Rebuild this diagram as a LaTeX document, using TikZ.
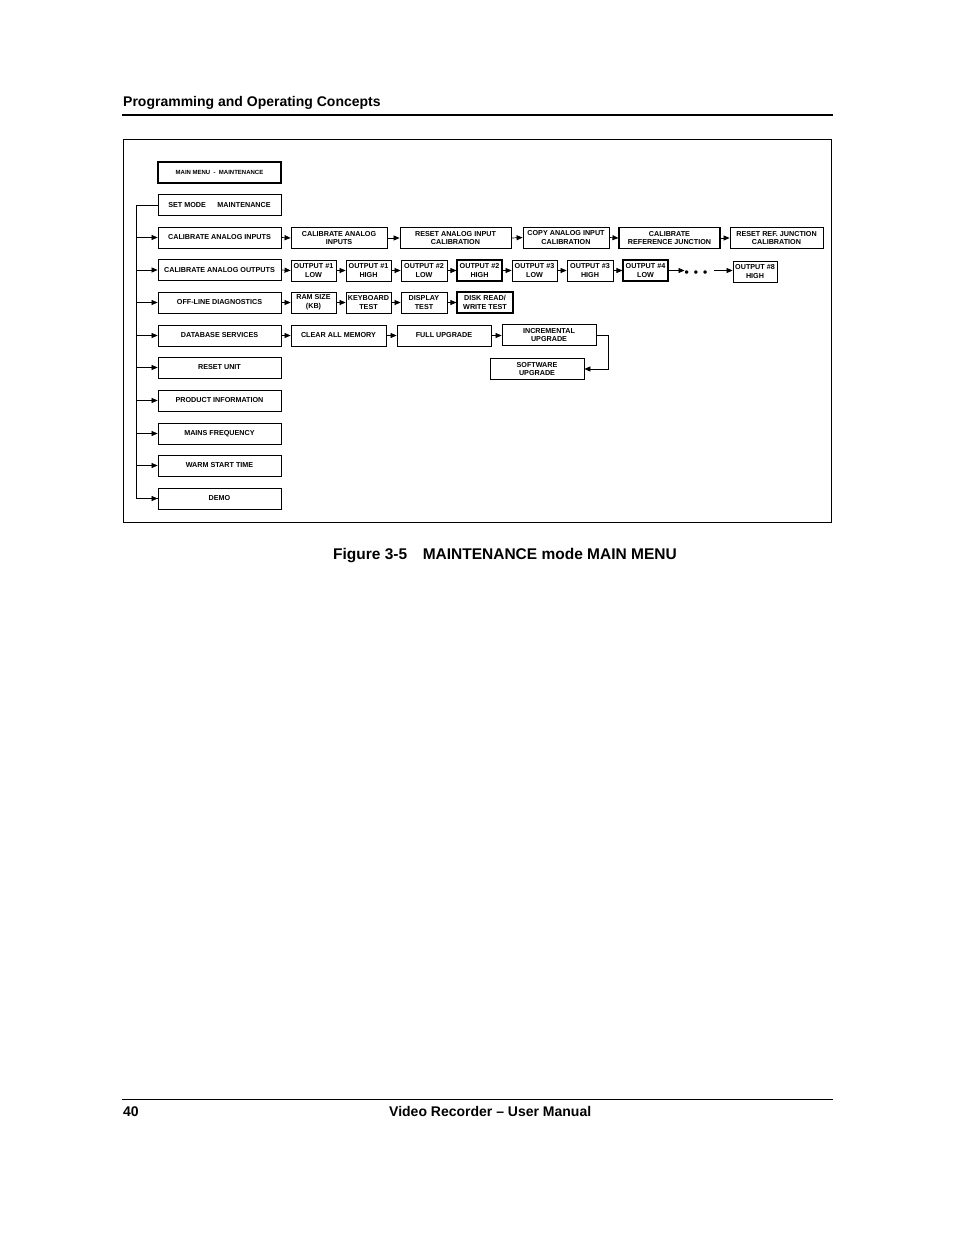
\documentclass[tikz,border=0pt]{standalone}
\usepackage{fontspec}
\setmainfont{Liberation Sans}
\usetikzlibrary{arrows.meta}
\begin{document}
\begin{tikzpicture}[x=1pt,y=-1pt,
  bx/.style={draw, line width=0.8pt, inner sep=0.5pt, align=center,
    font=\fontsize{7.2}{8.6}\selectfont\bfseries, minimum height=21pt},
  lbx/.style={bx, minimum width=123pt},
  thk/.style={line width=1.1pt},
  arr/.style={line width=0.7pt, -{Triangle[length=6pt,width=5pt]}},
  ln/.style={line width=0.7pt}]
\useasboundingbox (0,0) rectangle (954,1235);
% header / footer
\node[anchor=base west, inner sep=0, font=\fontsize{14}{16}\selectfont\bfseries] (hdr) at (123,106) {Programming and Operating Concepts};
\draw[line width=2pt] (122,115) -- (833,115);
\draw[line width=0.8pt] (122,1099) -- (833,1099);
\node[anchor=base west, inner sep=0, font=\fontsize{14}{16}\selectfont\bfseries] (pg) at (123,1116) {40};
\node[anchor=base west, inner sep=0, font=\fontsize{14}{16}\selectfont\bfseries] (ftr) at (389,1116) {Video Recorder – User Manual};
\node[anchor=base, inner sep=0, font=\fontsize{15.5}{18}\selectfont\bfseries] (cap) at (505,559) {Figure 3-5\hspace{1em}MAINTENANCE mode MAIN MENU};
% frame
\draw[line width=0.8pt] (123,139) rectangle (831,522);
% left column
\node[lbx, line width=1.6pt, font=\fontsize{6}{7}\selectfont\bfseries] (mm) at (219.5,172.5) {MAIN MENU\ \ -\ \ MAINTENANCE};
\node[lbx] (sm) at (219.5,205) {SET MODE\hspace{1.6em}MAINTENANCE};
\node[lbx] (cai) at (219.5,237.5) {CALIBRATE ANALOG INPUTS};
\node[lbx] (cao) at (219.5,270) {CALIBRATE ANALOG OUTPUTS};
\node[lbx] (old) at (219.5,302.5) {OFF-LINE DIAGNOSTICS};
\node[lbx] (db) at (219.5,335.5) {DATABASE SERVICES};
\node[lbx] (ru) at (219.5,367.5) {RESET UNIT};
\node[lbx] (pi) at (219.5,400.5) {PRODUCT INFORMATION};
\node[lbx] (mf) at (219.5,433.5) {MAINS FREQUENCY};
\node[lbx] (wst) at (219.5,465.5) {WARM START TIME};
\node[lbx] (demo) at (219.5,498.5) {DEMO};
% trunk
\coordinate (trunk) at (136,205);
\draw[ln] (sm.west) -- (trunk) |- (demo.west);
\foreach \n in {cai,cao,old,db,ru,pi,mf,wst,demo}
  \draw[arr] (trunk |- \n.west) -- (\n.west);
% row 1
\node[bx, minimum width=96pt] (a1) at (339,238) {CALIBRATE ANALOG\\INPUTS};
\node[bx, minimum width=111pt] (a2) at (455.5,238) {RESET ANALOG INPUT\\CALIBRATION};
\node[bx, minimum width=86pt] (a3) at (566,237.5) {COPY ANALOG INPUT\\CALIBRATION};
\node[bx, minimum width=101pt, thk] (a4) at (669.5,238) {CALIBRATE\\REFERENCE JUNCTION};
\node[bx, minimum width=93pt] (a5) at (776.5,238) {RESET REF. JUNCTION\\CALIBRATION};
\draw[arr] (cai.east) -- (a1.west);
\draw[arr] (a1.east) -- (a2.west);
\draw[arr] (a2.east) -- (a3.west);
\draw[arr] (a3.east) -- (a4.west);
\draw[arr] (a4.east) -- (a5.west);
% row 2
\node[bx, minimum width=45pt] (o1) at (313.5,270.5) {OUTPUT \#1\\LOW};
\node[bx, minimum width=45pt] (o2) at (368.5,270.5) {OUTPUT \#1\\HIGH};
\node[bx, minimum width=46pt] (o3) at (424,270.5) {OUTPUT \#2\\LOW};
\node[bx, minimum width=45pt, thk] (o4) at (479.5,270.5) {OUTPUT \#2\\HIGH};
\node[bx, minimum width=45pt] (o5) at (534.5,270.5) {OUTPUT \#3\\LOW};
\node[bx, minimum width=46pt] (o6) at (590,270.5) {OUTPUT \#3\\HIGH};
\node[bx, minimum width=45pt, thk] (o7) at (645.5,270.5) {OUTPUT \#4\\LOW};
\node[inner sep=0, font=\fontsize{12}{12}\selectfont\bfseries] (dots) at (696,273.5) {•\hspace{5pt}•\hspace{5pt}•};
\node[bx, minimum width=44pt] (o8) at (755,271.5) {OUTPUT \#8\\HIGH};
\draw[arr] (cao.east) -- (o1.west);
\draw[arr] (o1.east) -- (o2.west);
\draw[arr] (o2.east) -- (o3.west);
\draw[arr] (o3.east) -- (o4.west);
\draw[arr] (o4.east) -- (o5.west);
\draw[arr] (o5.east) -- (o6.west);
\draw[arr] (o6.east) -- (o7.west);
\draw[arr] (o7.east) -- (o7.east -| dots.west);
\draw[arr] ([xshift=6pt]dots.east |- o7.east) -- (o8.west |- o7.east);
% row 3
\node[bx, minimum width=45pt] (d1) at (313.5,302.5) {RAM SIZE\\(KB)};
\node[bx, minimum width=45pt] (d2) at (368.5,302.5) {KEYBOARD\\TEST};
\node[bx, minimum width=46pt] (d3) at (424,302.5) {DISPLAY\\TEST};
\node[bx, minimum width=56pt, thk] (d4) at (485,302.5) {DISK READ/\\WRITE TEST};
\draw[arr] (old.east) -- (d1.west);
\draw[arr] (d1.east) -- (d2.west);
\draw[arr] (d2.east) -- (d3.west);
\draw[arr] (d3.east) -- (d4.west);
% row 4
\node[bx, minimum width=95pt] (b1) at (338.5,335.5) {CLEAR ALL MEMORY};
\node[bx, minimum width=94pt] (b2) at (444,335.5) {FULL UPGRADE};
\node[bx, minimum width=94pt] (b3) at (549,335) {INCREMENTAL\\UPGRADE};
\node[bx, minimum width=94pt] (b4) at (537,369) {SOFTWARE\\UPGRADE};
\draw[arr] (db.east) -- (b1.west);
\draw[arr] (b1.east) -- (b2.west);
\draw[arr] (b2.east) -- (b3.west |- b2.east);
\coordinate (bend) at (608,335);
\draw[arr] (b3.east) -- (bend) |- (b4.east);
\end{tikzpicture}
\end{document}
